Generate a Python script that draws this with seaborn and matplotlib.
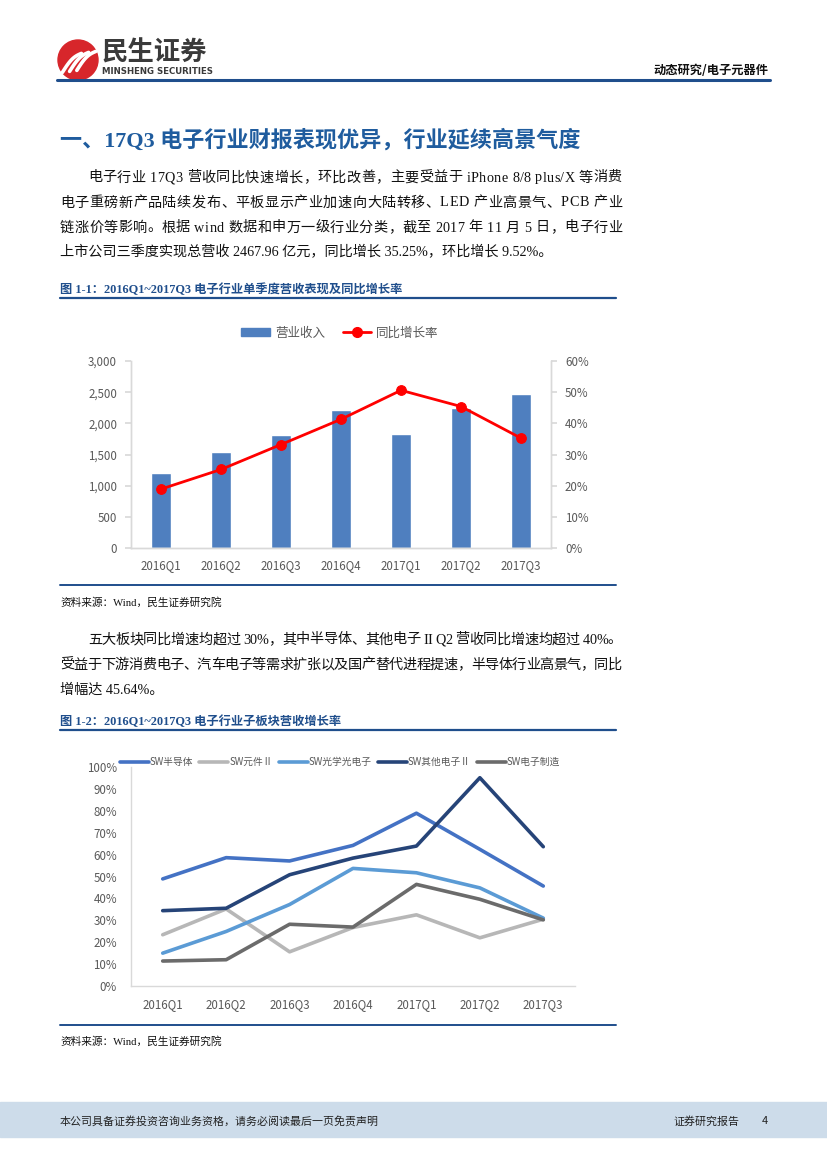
import numpy as np
import pandas as pd
import matplotlib
matplotlib.use("Agg")
import matplotlib.pyplot as plt
import matplotlib.patches as mpatches
from matplotlib.lines import Line2D
import seaborn as sns

# ---------------- data ----------------
quarters = ["2016Q1", "2016Q2", "2016Q3", "2016Q4", "2017Q1", "2017Q2", "2017Q3"]
revenue = [1210, 1542, 1818, 2215, 1828, 2249, 2468]
growth = [0.189, 0.252, 0.332, 0.413, 0.506, 0.454, 0.3525]

series_names = ["SW半导体", "SW元件Ⅱ", "SW光学光电子", "SW其他电子Ⅱ", "SW电子制造"]
semi = [0.489, 0.586, 0.571, 0.642, 0.789, 0.624, 0.4564]
components = [0.234, 0.352, 0.156, 0.267, 0.325, 0.220, 0.305]
optical = [0.150, 0.249, 0.372, 0.537, 0.517, 0.448, 0.310]
other = [0.344, 0.355, 0.508, 0.584, 0.639, 0.951, 0.636]
manufacturing = [0.114, 0.120, 0.282, 0.269, 0.464, 0.396, 0.302]

left_ticks = [0, 500, 1000, 1500, 2000, 2500, 3000]
right_ticks = [0, 0.1, 0.2, 0.3, 0.4, 0.5, 0.6]
pct_ticks = [0, 0.1, 0.2, 0.3, 0.4, 0.5, 0.6, 0.7, 0.8, 0.9, 1.0]

# ---------------- setup ----------------
sns.set_theme(style="white")
W, H = 827, 1169
plt.rcParams['font.family'] = ['Noto Sans CJK SC', 'DejaVu Sans']
plt.rcParams['axes.unicode_minus'] = False

fig = plt.figure(figsize=(8.27, 11.69), dpi=100)
fig.patch.set_facecolor("white")
renderer = fig.canvas.get_renderer()

def fx(x):
    return x / W

def fy(y):
    return 1 - y / H

def axes_px(l, t, r, b):
    return fig.add_axes([fx(l), fy(b), (r - l) / W, (b - t) / H])

SERIF = ['Liberation Serif', 'Noto Sans CJK SC']
BLUE_DARK = "#1f4e8c"
BLUE_TITLE = "#1f5c9e"

# ---------------- header ----------------
lax = axes_px(56, 38, 100, 82)
lax.set_xlim(-1.1, 1.1)
lax.set_ylim(-1.1, 1.1)
lax.set_aspect("equal")
lax.axis("off")
lax.add_patch(mpatches.Circle((0, 0), 1.0, color="#d7262b"))
for k in range(3):
    t = np.linspace(0, 1, 40)
    x0 = -0.78 + 0.36 * k
    xs = x0 + 0.95 * t
    ys = -0.62 + 0.95 * t + 0.35 * np.sin(np.pi * t) * 0.5 + 0.05 * k
    lax.plot(xs, ys, color="white", lw=2.6, solid_capstyle="round")

fig.text(fx(102), fy(53), "民生证券", fontsize=19, fontweight="bold", color="#3a3a3a",
         ha="left", va="center")
fig.text(fx(102), fy(71), "MINSHENG SECURITIES", fontsize=6.2, fontweight="bold",
         color="#3a3a3a", ha="left", va="center", family=['DejaVu Sans'])
fig.text(fx(768), fy(71), "动态研究/电子元器件", fontsize=8.8, fontweight="bold", color="#111111",
         ha="right", va="center")
fig.add_artist(Line2D([fx(57), fx(770)], [fy(80), fy(80)], color=BLUE_DARK, lw=2.2))

# ---------------- title & body ----------------
fig.text(fx(60), fy(140), "一、17Q3 电子行业财报表现优异，行业延续高景气度", fontsize=15.9,
         fontweight="bold", color=BLUE_TITLE, ha="left", va="center", family=SERIF)

BODY_FS = 10.2
RIGHT_EDGE = 622

def char_width(c):
    t = fig.text(0, 0, c, fontsize=BODY_FS, family=SERIF)
    w = t.get_window_extent(renderer).width
    t.remove()
    if c == " ":
        t = fig.text(0, 0, "a a", fontsize=BODY_FS, family=SERIF)
        w3 = t.get_window_extent(renderer).width
        t.remove()
        t = fig.text(0, 0, "aa", fontsize=BODY_FS, family=SERIF)
        w2 = t.get_window_extent(renderer).width
        t.remove()
        w = w3 - w2
    return w

def body_line(x, y, s, justify):
    if not justify:
        fig.text(fx(x), fy(y), s, fontsize=BODY_FS, color="#111111", ha="left",
                 va="center", family=SERIF)
        return
    widths = [char_width(c) for c in s]
    total = sum(widths)
    gap = (RIGHT_EDGE - x - total) / max(len(s) - 1, 1)
    cx = x
    for c, w in zip(s, widths):
        if c != " ":
            fig.text(fx(cx), fy(y), c, fontsize=BODY_FS, color="#111111", ha="left",
                     va="center", family=SERIF)
        cx += w + gap

body1 = [
    (88, 178, "电子行业 17Q3 营收同比快速增长，环比改善，主要受益于 iPhone 8/8 plus/X 等消费", True),
    (60, 203, "电子重磅新产品陆续发布、平板显示产业加速向大陆转移、LED 产业高景气、PCB 产业", True),
    (60, 228, "链涨价等影响。根据 wind 数据和申万一级行业分类，截至 2017 年 11 月 5 日，电子行业", True),
    (60, 252, "上市公司三季度实现总营收 2467.96 亿元，同比增长 35.25%，环比增长 9.52%。", False),
]
body2 = [
    (88, 640, "五大板块同比增速均超过 30%，其中半导体、其他电子 II Q2 营收同比增速均超过 40%。", True),
    (60, 665, "受益于下游消费电子、汽车电子等需求扩张以及国产替代进程提速，半导体行业高景气，同比", True),
    (60, 690, "增幅达 45.64%。", False),
]
for x, y, s, j in body1 + body2:
    body_line(x, y, s, j)

def caption(y, s, line_y):
    fig.text(fx(60), fy(y), s, fontsize=8.8, fontweight="bold", color=BLUE_DARK,
             ha="left", va="center", family=SERIF)
    fig.add_artist(Line2D([fx(60), fx(616)], [fy(line_y), fy(line_y)], color=BLUE_DARK, lw=1.6))

caption(290, "图 1-1：2016Q1~2017Q3 电子行业单季度营收表现及同比增长率", 298)
caption(722, "图 1-2：2016Q1~2017Q3 电子行业子板块营收增长率", 730)

for ly, sy in [(585, 602), (1025, 1041)]:
    fig.add_artist(Line2D([fx(60), fx(616)], [fy(ly), fy(ly)], color=BLUE_DARK, lw=1.4))
    fig.text(fx(60), fy(sy), "资料来源：Wind，民生证券研究院", fontsize=7.7, color="#111111",
             ha="left", va="center", family=SERIF)

# ---------------- chart 1 ----------------
GRAY_TXT = "#595959"
SPINE = "#d9d9d9"
ax1 = axes_px(131, 361, 551, 548)
df1 = pd.DataFrame({"quarter": quarters, "revenue": revenue, "growth": growth})
sns.barplot(data=df1, x="quarter", y="revenue", color="#4f7fbf", saturation=1,
            width=0.33, ax=ax1)
ax1.set_ylim(0, 3000)
ax1.set_xlim(-0.5, len(quarters) - 0.5)
ax1.set_yticks(left_ticks)
ax1.set_yticklabels([f"{v:,}" for v in left_ticks])
ax1.set_xlabel("")
ax1.set_ylabel("")
ax2 = ax1.twinx()
sns.lineplot(x=np.arange(len(quarters)), y=df1["growth"], color="#ff0000", lw=2.0,
             marker="o", markersize=7, markeredgecolor="#ff0000", ax=ax2)
ax2.set_ylim(0, 0.6)
ax2.set_yticks(right_ticks)
ax2.set_yticklabels([f"{int(round(v*100))}%" for v in right_ticks])
ax2.set_ylabel("")
for a in (ax1, ax2):
    for s in a.spines.values():
        s.set_color(SPINE)
        s.set_linewidth(1.0)
    a.spines["top"].set_visible(False)
ax1.tick_params(axis="y", length=4, color=SPINE, labelsize=8.3, labelcolor=GRAY_TXT, pad=6)
ax1.tick_params(axis="x", length=0, labelsize=8.3, labelcolor=GRAY_TXT, pad=8)
ax2.tick_params(axis="y", length=4, color=SPINE, labelsize=8.3, labelcolor=GRAY_TXT, pad=6)
ax1.grid(False)
ax2.grid(False)
h1 = [mpatches.Patch(color="#4f7fbf"),
      Line2D([], [], color="#ff0000", lw=2.0, marker="o", markersize=7)]
ax2.legend(h1, ["营业收入", "同比增长率"], loc="center", ncol=2, frameon=False,
           bbox_to_anchor=(fx(340), fy(333)), bbox_transform=fig.transFigure,
           fontsize=9, labelcolor=GRAY_TXT, handlelength=2.3, handleheight=0.6,
           columnspacing=1.4, handletextpad=0.4)

# ---------------- chart 2 ----------------
ax3 = axes_px(131, 767, 575, 986)
df2 = pd.DataFrame({"quarter": quarters, series_names[0]: semi, series_names[1]: components,
                    series_names[2]: optical, series_names[3]: other,
                    series_names[4]: manufacturing})
long = df2.melt(id_vars="quarter", var_name="series", value_name="value")
palette = {series_names[0]: "#4472c4", series_names[1]: "#b7b7b7",
           series_names[2]: "#5b9bd5", series_names[3]: "#264478",
           series_names[4]: "#6b6b6b"}
sns.lineplot(data=long, x="quarter", y="value", hue="series", palette=palette,
             hue_order=series_names, lw=2.6, ax=ax3, sort=False)
ax3.set_ylim(0, 1.0)
ax3.set_xlim(-0.5, len(quarters) - 0.5)
ax3.set_yticks(pct_ticks)
ax3.set_yticklabels([f"{int(round(v*100))}%" for v in pct_ticks])
ax3.set_xlabel("")
ax3.set_ylabel("")
for k in ("top", "right"):
    ax3.spines[k].set_visible(False)
for k in ("left", "bottom"):
    ax3.spines[k].set_color(SPINE)
    ax3.spines[k].set_linewidth(1.0)
ax3.tick_params(axis="y", length=4, color=SPINE, labelsize=8.3, labelcolor=GRAY_TXT, pad=6)
ax3.tick_params(axis="x", length=0, labelsize=8.3, labelcolor=GRAY_TXT, pad=9)
ax3.grid(False)
if ax3.get_legend() is not None:
    ax3.get_legend().remove()
h3 = [Line2D([], [], color=palette[n], lw=2.6) for n in series_names]
ax3.legend(h3, series_names, loc="center", ncol=5, frameon=False,
           bbox_to_anchor=(fx(340), fy(762)), bbox_transform=fig.transFigure,
           fontsize=7, labelcolor=GRAY_TXT, handlelength=3.0, handletextpad=0.1,
           columnspacing=0.6)

# ---------------- footer ----------------
fig.add_artist(mpatches.Rectangle((0, fy(1137)), 1, (1137 - 1102) / H,
                                  transform=fig.transFigure, color="#cddcea", zorder=0))
fig.text(fx(60), fy(1121), "本公司具备证券投资咨询业务资格，请务必阅读最后一页免责声明",
         fontsize=7.9, color="#222222", ha="left", va="center")
fig.text(fx(673), fy(1121), "证券研究报告", fontsize=7.9, color="#222222", ha="left", va="center")
fig.text(fx(768), fy(1121), "4", fontsize=7.9, color="#222222", ha="right", va="center")

fig.savefig("out.png", dpi=100)
